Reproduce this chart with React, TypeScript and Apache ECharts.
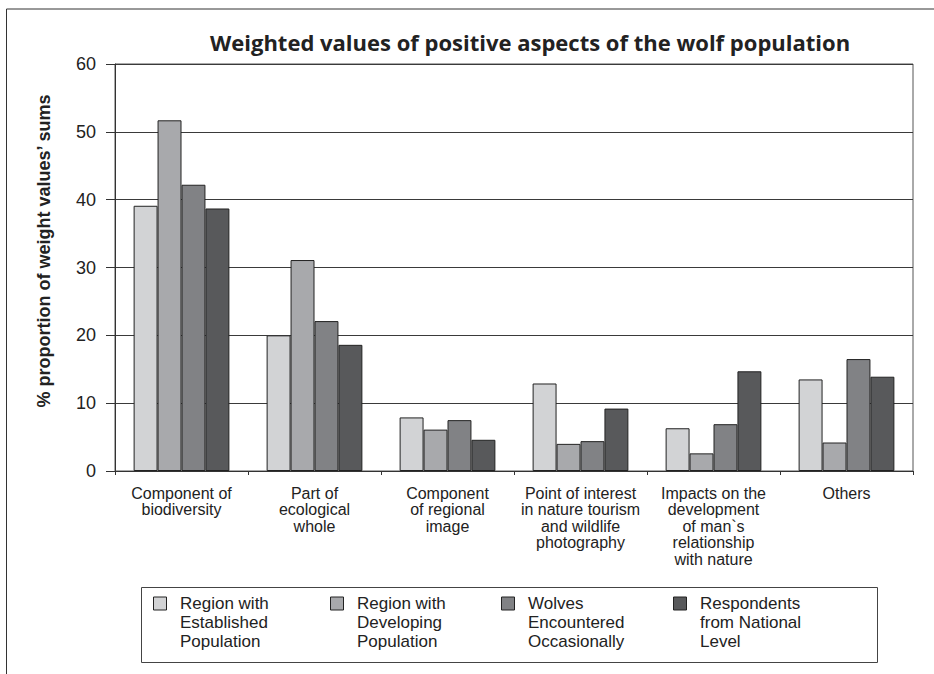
import React, { useEffect, useRef } from "react";
import * as echarts from "echarts";

const categories = [
  "Component of\nbiodiversity",
  "Part of\necological\nwhole",
  "Component\nof regional\nimage",
  "Point of interest\nin nature tourism\nand wildlife\nphotography",
  "Impacts on the\ndevelopment\nof man`s\nrelationship\nwith nature",
  "Others",
];

const seriesNames = [
  "Region with Established Population",
  "Region with Developing Population",
  "Wolves Encountered Occasionally",
  "Respondents from National Level",
];
const legendLabels = [
  ["Region with", "Established", "Population"],
  ["Region with", "Developing", "Population"],
  ["Wolves", "Encountered", "Occasionally"],
  ["Respondents", "from National", "Level"],
];

const established = [39.1, 20.0, 7.9, 12.9, 6.3, 13.5];
const developing = [51.7, 31.1, 6.1, 4.0, 2.6, 4.2];
const occasional = [42.2, 22.1, 7.5, 4.4, 6.9, 16.5];
const national = [38.7, 18.6, 4.6, 9.2, 14.7, 13.9];
const seriesValues = [established, developing, occasional, national];

const colors = ["#d2d3d5", "#a8a9ac", "#818285", "#58595b"];
const yTicks = { min: 0, max: 60, interval: 10 };

const legendLefts = [153, 330, 501, 673];

export default function App() {
  const ref = useRef<HTMLDivElement>(null);
  useEffect(() => {
    document.body.style.margin = "0";
    const chart = echarts.init(ref.current!, undefined, { renderer: "svg" });
    const font = "'Liberation Sans', Arial, sans-serif";
    chart.setOption({
      animation: false,
      backgroundColor: "#ffffff",
      title: {
        text: "Weighted values of positive aspects of the wolf population",
        left: 205,
        top: 26,
        textStyle: {
          fontFamily: "'Open Sans', sans-serif",
          fontWeight: "bold",
          fontSize: 22,
          color: "#222",
        },
      },
      grid: {
        left: 115,
        top: 64,
        right: 21,
        bottom: 203,
        show: true,
        borderColor: "#555",
        borderWidth: 1,
      },
      xAxis: {
        type: "category",
        data: categories,
        axisLine: { lineStyle: { color: "#333" } },
        axisTick: { show: true, length: 4, lineStyle: { color: "#333" } },
        axisLabel: {
          interval: 0,
          fontFamily: font,
          fontSize: 16,
          lineHeight: 16.5,
          color: "#222",
          margin: 14,
        },
      },
      yAxis: {
        type: "value",
        min: yTicks.min,
        max: yTicks.max,
        interval: yTicks.interval,
        axisLine: { show: true, lineStyle: { color: "#333" } },
        axisTick: { show: true, length: 9, lineStyle: { color: "#333" } },
        axisLabel: { fontFamily: font, fontSize: 18, color: "#222", margin: 19 },
        splitLine: { lineStyle: { color: "#3a3a3a", width: 1 } },
      },
      legend: seriesNames.map((n, i) => ({
        data: [n],
        left: legendLefts[i],
        top: 556,
        padding: 0,
        itemWidth: 13,
        itemHeight: 13,
        itemGap: 0,
        itemStyle: { borderColor: "#222", borderWidth: 1 },
        formatter: () =>
          "\n\n" + legendLabels[i].map((l) => "\u2002" + l).join("\n"),
        textStyle: {
          fontFamily: font,
          fontSize: 17,
          lineHeight: 19,
          color: "#222",
        },
        icon: "rect",
      })),
      graphic: [
        {
          type: "polyline",
          shape: { points: [[934, 9], [6.5, 9], [6.5, 674]] },
          style: { stroke: "#333", lineWidth: 1, fill: null },
          silent: true,
        },
        {
          type: "rect",
          shape: { x: 141.5, y: 587.5, width: 736, height: 75 },
          style: { stroke: "#444", lineWidth: 1, fill: null },
          silent: true,
        },
        {
          type: "text",
          x: 44,
          y: 251,
          rotation: Math.PI / 2,
          style: {
            text: "% proportion of weight values\u2019 sums",
            fontFamily: font,
            fontWeight: "bold",
            fontSize: 18,
            fill: "#222",
            align: "center",
            verticalAlign: "middle",
          },
          silent: true,
        },
      ],
      series: seriesNames.map((n, i) => ({
        name: n,
        type: "bar",
        data: seriesValues[i],
        barGap: "0%",
        barCategoryGap: "28%",
        itemStyle: { color: colors[i], borderColor: "#222", borderWidth: 1 },
      })),
    });
    return () => chart.dispose();
  }, []);
  return <div ref={ref} style={{ width: 934, height: 674 }} />;
}
